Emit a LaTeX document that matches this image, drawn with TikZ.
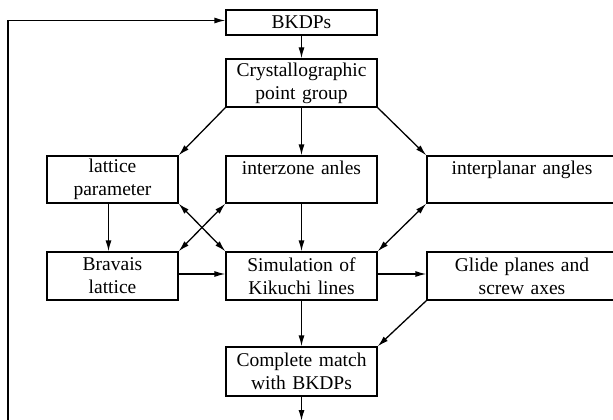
\documentclass[tikz,border=0pt]{standalone}
\usepackage{fontspec}
\setmainfont{Liberation Serif}
\usetikzlibrary{arrows.meta}

\tikzset{
  blk/.style={draw,rectangle,line width=1.3pt,align=center,inner xsep=0pt,inner ysep=0pt,
    font=\fontsize{19.5}{23}\selectfont},
  midcol/.style={blk,text width=151pt,minimum height=48pt},
  leftcol/.style={blk,text width=131pt,minimum height=48pt},
  rightcol/.style={blk,text width=190pt,minimum height=48pt},
  flow/.style={line width=1.3pt,-{Latex[length=11pt,width=6pt]}},
  both/.style={line width=1.3pt,{Latex[length=11pt,width=6pt]}-{Latex[length=11pt,width=6pt]}},
}

\begin{document}
\begin{tikzpicture}[x=1pt,y=-1pt]%
\useasboundingbox (0,0) rectangle (613,420);%
\clip (0,0) rectangle (613,420);%
% boxes
\node[midcol,minimum height=25pt] (bkdp) at (301.5,22.5) {BKDPs};%
\node[midcol] (cryst) at (301.5,83) {Crystallographic\\point group};%
\node[leftcol,minimum height=47pt] (latpar) at (112.5,179.5) {lattice\\parameter};%
\node[midcol,minimum height=47pt] (zone) at (301.5,179.5) {interzone anles\\\mbox{}};%
\node[rightcol,minimum height=47pt] (plane) at (522,179.5) {interplanar angles\\\mbox{}};%
\node[leftcol] (brav) at (112.5,276) {Bravais\\lattice};%
\node[midcol] (sim) at (301.5,276) {Simulation of\\Kikuchi lines};%
\node[rightcol] (glide) at (522,276) {Glide planes and\\screw axes};%
\node[midcol,minimum height=49pt] (match) at (301.5,371.5) {Complete match\\with BKDPs};%
\coordinate (out) at (301.5,421);%
\coordinate (back) at (8,421);%
% arrows
\draw[flow] (bkdp) -- (cryst);%
\draw[flow] (cryst.south west) -- (latpar.north east);%
\draw[flow] (cryst) -- (zone);%
\draw[flow] (cryst.south east) -- (plane.north west);%
\draw[flow] ([xshift=-4pt]latpar.south) -- ([xshift=-4pt]brav.north);%
\draw[both] (latpar.south east) -- (sim.north west);%
\draw[both] (zone.south west) -- (brav.north east);%
\draw[flow] (zone) -- (sim);%
\draw[both] (plane.south west) -- (sim.north east);%
\draw[flow] ([yshift=2pt]brav.east) -- ([yshift=2pt]sim.west);%
\draw[flow] ([yshift=2pt]sim.east) -- ([yshift=2pt]glide.west);%
\draw[flow] (sim) -- (match);%
\draw[flow] (glide.south west) -- (match.north east);%
\draw[flow] (match) -- (out);%
% feedback loop
\draw[flow] (back) |- ([yshift=2pt]bkdp.west);%
\end{tikzpicture}
\end{document}
